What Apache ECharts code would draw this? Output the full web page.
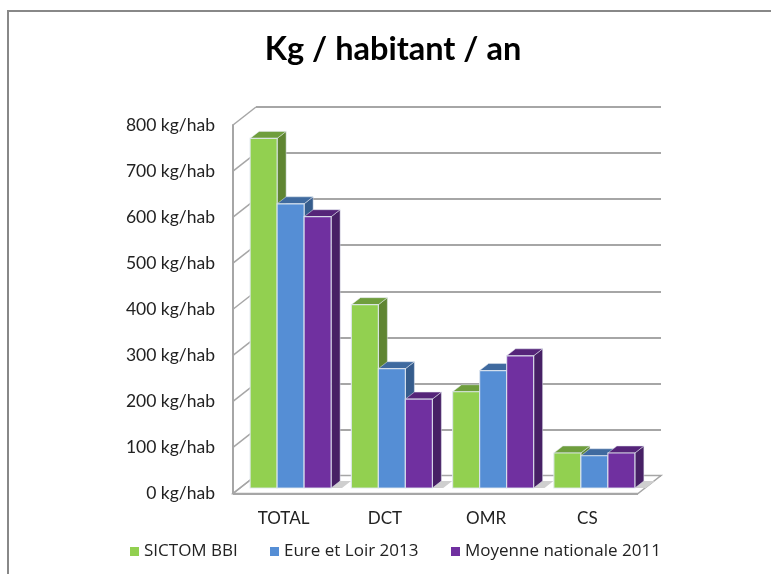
<!DOCTYPE html>
<html>
<head>
<meta charset="utf-8">
<script src="https://cdn.jsdelivr.net/npm/echarts@6/dist/echarts.min.js"></script>
<style>
  html, body { margin: 0; padding: 0; background: #fff; }
  #main { width: 771px; height: 574px; }
</style>
</head>
<body>
<div id="main"></div>
<script>
  var categories = ['TOTAL', 'DCT', 'OMR', 'CS']
  var sictom = [759, 398, 209, 76]
  var eureEtLoir = [617, 259, 255, 70]
  var moyenne = [589, 193, 287, 76]
  var wallTicks = [0, 100, 200, 300, 400, 500, 600, 700, 800]

  var FONT = 'Lato, "Open Sans", sans-serif'
  // decalage de la perspective entre le plan avant et le mur du fond
  var DEPTH_X = 23
  var DEPTH_Y = 18
  var GAP_X = 7
  var GAP_Y = 5.5
  var SIDE_X = 9
  var SIDE_Y = 7
  var AXIS_GRAY = '#a6a6a6'

  function bar3d (index, front, top, side) {
    return function (params, api) {
      var p = api.coord([api.value(0), api.value(1)])
      var base = api.coord([api.value(0), 0])
      var band = api.size([1, 0])[0]
      var w = band * 0.2667
      var x0 = p[0] + GAP_X + (index - 1.5) * w
      var x1 = x0 + w
      var y0 = p[1] - GAP_Y
      var y1 = base[1] - GAP_Y
      var edge = 'rgba(225,232,240,0.85)'
      return {
        type: 'group',
        children: [
          { type: 'polygon', shape: { points: [[x1, y0], [x1 + SIDE_X, y0 - SIDE_Y], [x1 + SIDE_X, y1 - SIDE_Y], [x1, y1]] }, style: { fill: side, stroke: edge, lineWidth: 0.6 } },
          { type: 'polygon', shape: { points: [[x0, y0], [x0 + SIDE_X, y0 - SIDE_Y], [x1 + SIDE_X, y0 - SIDE_Y], [x1, y0]] }, style: { fill: top, stroke: edge, lineWidth: 0.6 } },
          { type: 'rect', shape: { x: x0, y: y0, width: w, height: y1 - y0 }, style: { fill: front, stroke: edge, lineWidth: 1.2 } }
        ]
      }
    }
  }

  function barSeries (name, values, index, front, top, side) {
    return {
      name: name,
      type: 'custom',
      xAxisIndex: 0,
      yAxisIndex: 0,
      z: 5 + index,
      itemStyle: { color: front },
      encode: { x: 0, y: 1 },
      data: values.map(function (v, i) { return [i, v] }),
      renderItem: bar3d(index, front, top, side)
    }
  }

  // sol du graphique, avec une petite ombre a droite de chaque groupe
  function renderFloor (params, api) {
    var c = params.coordSys
    var b = c.y + c.height
    var r = c.x + c.width
    var band = c.width / categories.length
    var children = [
      { type: 'polygon', shape: { points: [[c.x, b], [r, b], [r + DEPTH_X, b - DEPTH_Y], [c.x + DEPTH_X, b - DEPTH_Y]] }, style: { fill: '#fff', stroke: AXIS_GRAY, lineWidth: 1.5 } },
      { type: 'line', shape: { x1: c.x, y1: b + 0.5, x2: r, y2: b + 0.5 }, style: { stroke: AXIS_GRAY, lineWidth: 2 } }
    ]
    for (var i = 0; i < categories.length; i++) {
      var sx = c.x + band * i + 98
      children.push({ type: 'polygon', shape: { points: [[sx + 9, b - 12.5], [sx + 20, b - 12.5], [sx + 11, b - 5.5], [sx, b - 5.5]] }, style: { fill: '#cfcfcf' } })
    }
    return { type: 'group', children: children }
  }

  function renderWallTick (params, api) {
    var p = api.coord([0, api.value(0)])
    var x = params.coordSys.x
    return {
      type: 'line',
      shape: { x1: x, y1: p[1], x2: x + DEPTH_X, y2: p[1] - DEPTH_Y },
      style: { stroke: AXIS_GRAY, lineWidth: 1.5 }
    }
  }

  function legendItem (name, left) {
    return {
      left: left,
      top: 543,
      icon: 'rect',
      itemWidth: 9,
      itemHeight: 9,
      padding: 0,
      data: [name],
      textStyle: { fontFamily: '"Open Sans", sans-serif', fontSize: 17, color: '#222' }
    }
  }

  var myChart = echarts.init(document.getElementById('main'))
  var option = {
    animation: false,
    backgroundColor: '#fff',
    title: {
      text: 'Kg / habitant / an',
      left: 388,
      top: 28,
      textAlign: 'center',
      textStyle: { fontFamily: FONT, fontSize: 32.5, fontWeight: 'bold', color: '#000' }
    },
    legend: [
      legendItem('SICTOM BBI', 130),
      legendItem('Eure et Loir 2013', 270),
      legendItem('Moyenne nationale 2011', 451)
    ],
    grid: [
      { left: 233, top: 125, width: 405, height: 368.5 },
      { left: 256, top: 107, width: 405, height: 368.5 }
    ],
    xAxis: [
      {
        type: 'category',
        gridIndex: 0,
        data: categories,
        axisLine: { show: false },
        axisTick: { show: false },
        axisLabel: { margin: 17, fontFamily: FONT, fontSize: 17, color: '#222' }
      },
      {
        type: 'category',
        gridIndex: 1,
        data: categories,
        show: false
      }
    ],
    yAxis: [
      {
        type: 'value',
        gridIndex: 0,
        min: 0,
        max: 800,
        interval: 100,
        splitLine: { show: false },
        axisTick: { show: false },
        axisLine: { show: true, lineStyle: { color: AXIS_GRAY, width: 2 } },
        axisLabel: { margin: 18, fontFamily: FONT, fontSize: 17.5, color: '#222', padding: [6, 0, 0, 0], formatter: '{value} kg/hab' }
      },
      {
        type: 'value',
        gridIndex: 1,
        min: 0,
        max: 800,
        interval: 100,
        axisLine: { show: false },
        axisTick: { show: false },
        axisLabel: { show: false },
        splitLine: { show: true, lineStyle: { color: AXIS_GRAY, width: 2 } }
      }
    ],
    series: [
      { name: 'sol', type: 'custom', z: 2, xAxisIndex: 0, yAxisIndex: 0, data: [[0]], renderItem: renderFloor, silent: true },
      { name: 'mur', type: 'custom', z: 3, xAxisIndex: 0, yAxisIndex: 0, data: wallTicks.map(function (v) { return [v] }), encode: { y: 0 }, renderItem: renderWallTick, silent: true },
      barSeries('SICTOM BBI', sictom, 0, '#92D050', '#6F9E3D', '#5F8532'),
      barSeries('Eure et Loir 2013', eureEtLoir, 1, '#558ED5', '#3F6A9F', '#355C8C'),
      barSeries('Moyenne nationale 2011', moyenne, 2, '#7030A0', '#552479', '#472065')
    ],
    graphic: [
      {
        type: 'polyline',
        silent: true,
        z: 100,
        shape: { points: [[8, 574], [8, 11], [771, 11]] },
        style: { fill: 'none', stroke: '#888', lineWidth: 2 }
      }
    ]
  }
  myChart.setOption(option)
</script>
</body>
</html>
